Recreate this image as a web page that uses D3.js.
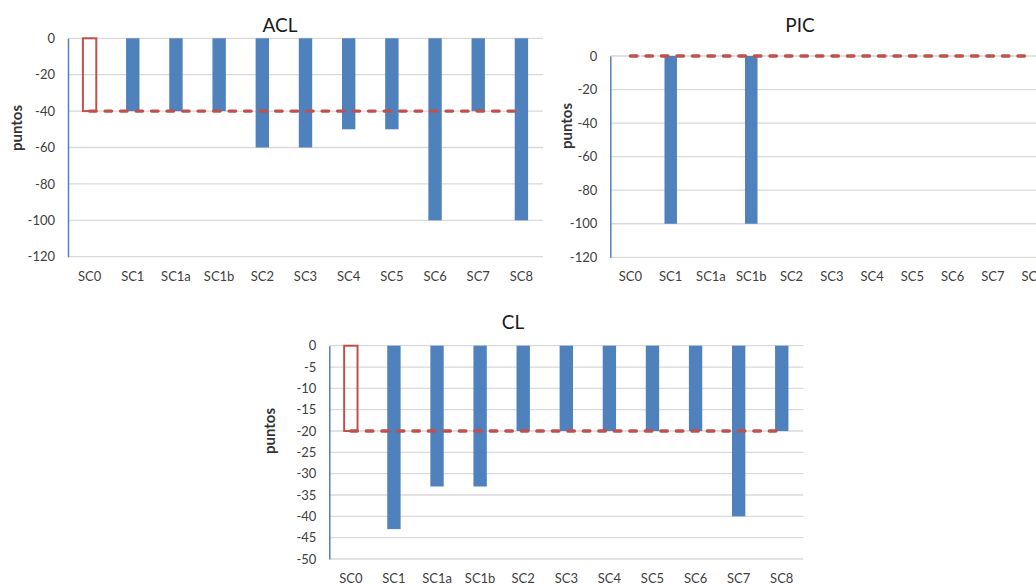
<!DOCTYPE html>
<html><head><meta charset="utf-8">
<script src="https://cdn.jsdelivr.net/npm/d3@7"></script>
<style>
body{margin:0;background:#fff;}
svg{display:block;font-family:Lato, "Open Sans", sans-serif;}
</style>
</head><body>
<svg id="c" width="1036" height="585"></svg>
<script>
// ---- data ----
const categories = ["SC0","SC1","SC1a","SC1b","SC2","SC3","SC4","SC5","SC6","SC7","SC8"];
const aclValues = [0,-40,-40,-40,-60,-60,-50,-50,-100,-40,-100];
const picValues = [0,-100,0,-100,0,0,0,0,0,0,0];
const clValues  = [0,-43,-33,-33,-20,-20,-20,-20,-20,-40,-20];
const aclTarget = -40;
const picTarget = 0;
const clTarget  = -20;
const refCategory = "SC0";
const aclTicks = [0,-20,-40,-60,-80,-100,-120];
const picTicks = [0,-20,-40,-60,-80,-100,-120];
const clTicks  = [0,-5,-10,-15,-20,-25,-30,-35,-40,-45,-50];
const titles = ["ACL","PIC","CL"];
const yTitle = "puntos";

// ---- layout ----
const svg = d3.select("#c");
const BLUE = "#4F81BD", RED = "#C0504D", GRID = "#D9D9D9", TXT = "#404040";

function drawChart(o){
  const g = svg.append("g");
  const x = d3.scaleBand().domain(categories).range([o.x0, o.x1]).padding(0);
  const y = d3.scaleLinear().domain([d3.min(o.ticks), d3.max(o.ticks)]).range([o.y1, o.y0]);
  const bw = x.bandwidth()*0.31;

  // gridlines
  g.selectAll(".grid").data(o.ticks).join("line")
    .attr("x1", o.x0).attr("x2", o.x1)
    .attr("y1", d=>y(d)).attr("y2", d=>y(d))
    .attr("stroke", GRID).attr("stroke-width", 1.3);

  // y axis
  const ax = g.append("g").attr("transform", `translate(${o.x0},0)`)
    .call(d3.axisLeft(y).tickValues(o.ticks).tickSize(0).tickPadding(13).tickFormat(d=>String(d)));
  ax.select(".domain").attr("stroke", BLUE).attr("stroke-width", 1.5);
  ax.selectAll("text").attr("fill", TXT).style("font-size", "13px").style("font-family", "Lato, sans-serif");

  // x labels
  g.selectAll(".xl").data(categories).join("text")
    .attr("x", d=>x(d)+x.bandwidth()/2).attr("y", o.y1+19.5)
    .attr("dy", "0.35em").attr("text-anchor", "middle")
    .attr("fill", TXT).style("font-size", "13px").text(d=>d);

  // bars
  g.selectAll(".bar").data(o.values.map((v,i)=>({c:categories[i], v}))).join("rect")
    .attr("x", d=>x(d.c)+x.bandwidth()/2-bw/2)
    .attr("y", d=>Math.min(y(0), y(d.v)))
    .attr("width", bw)
    .attr("height", d=>Math.abs(y(d.v)-y(0)))
    .attr("fill", BLUE);

  // reference hollow bar
  if (o.target !== 0){
    g.append("rect")
      .attr("x", x(refCategory)+x.bandwidth()/2-bw/2)
      .attr("y", y(0))
      .attr("width", bw)
      .attr("height", y(o.target)-y(0))
      .attr("fill", "none").attr("stroke", RED).attr("stroke-width", 2);
  }

  // dashed target line
  g.append("line")
    .attr("x1", x(categories[0])+x.bandwidth()/2)
    .attr("x2", x(categories[categories.length-1])+x.bandwidth()/2)
    .attr("y1", y(o.target)).attr("y2", y(o.target))
    .attr("stroke", RED).attr("stroke-width", 3.4)
    .attr("stroke-dasharray", "6.5,9").attr("stroke-linecap", "round");

  // title
  g.append("text").attr("x", o.tx).attr("y", o.ty).attr("dy","0.35em")
    .attr("text-anchor","middle").attr("fill","#1a1a1a")
    .style("font-size","19px").text(o.title);

  // y title
  g.append("text")
    .attr("transform", `translate(${o.lx},${o.ly}) rotate(-90)`)
    .attr("dy","0.35em").attr("text-anchor","middle")
    .attr("fill", "#333").style("font-size","15px").style("font-weight","bold")
    .text(yTitle);
}

drawChart({title:titles[0], values:aclValues, target:aclTarget, ticks:aclTicks,
  x0:68, x1:543, y0:38.3, y1:256.7, tx:280, ty:25, lx:17, ly:128});
drawChart({title:titles[1], values:picValues, target:picTarget, ticks:picTicks,
  x0:610.3, x1:1053.3, y0:56, y1:257.3, tx:800, ty:25, lx:567, ly:126});
drawChart({title:titles[2], values:clValues, target:clTarget, ticks:clTicks,
  x0:329.3, x1:803.3, y0:345.7, y1:559, tx:513, ty:322, lx:270, ly:431});
</script>
</body></html>
